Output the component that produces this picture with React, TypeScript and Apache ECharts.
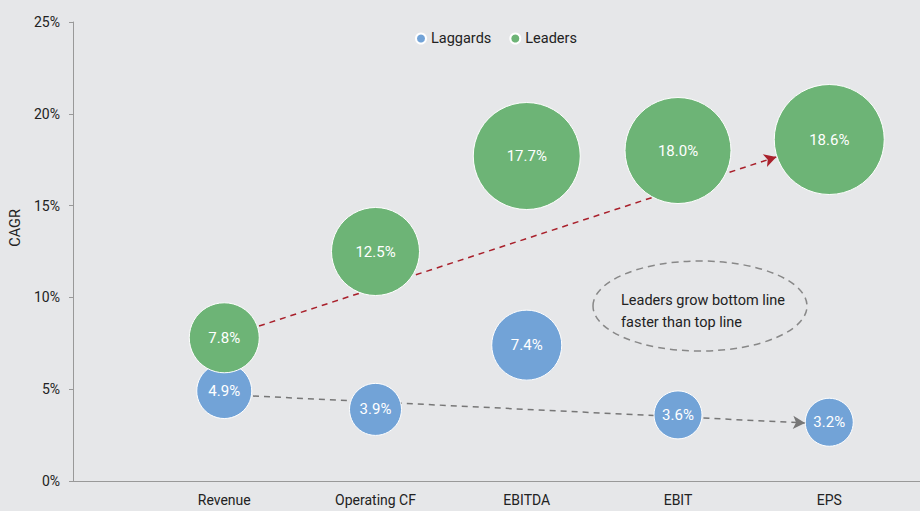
import React, { useEffect, useRef } from "react";
import * as echarts from "echarts";

const categories = ["Revenue", "Operating CF", "EBITDA", "EBIT", "EPS"];
const laggards = [4.9, 3.9, 7.4, 3.6, 3.2];
const leaders = [7.8, 12.5, 17.7, 18.0, 18.6];
const laggardSize = [55, 52, 70, 48, 48];
const leaderSize = [70, 88, 107, 106, 110];
const yTicks = [0, 5, 10, 15, 20, 25];

const FONT = '"Roboto", "Liberation Sans", sans-serif';
const BLUE = "#72a3d7";
const GREEN = "#6db476";

export default function App() {
  const ref = useRef<HTMLDivElement>(null);
  useEffect(() => {
    if (!ref.current) return;
    const chart = echarts.init(ref.current, null, { renderer: "svg" });
    const bubbles = (vals: number[], sizes: number[]) =>
      vals.map((v, i) => ({ value: [i + 1, v], symbolSize: sizes[i] }));
    chart.setOption({
      animation: false,
      backgroundColor: "#e6e7e9",
      textStyle: { fontFamily: FONT },
      legend: {
        data: ["Laggards", "Leaders"],
        left: 410,
        top: 26,
        icon: "circle",
        itemWidth: 10,
        itemHeight: 10,
        itemGap: 18,
        textStyle: { fontFamily: FONT, fontSize: 14.5, color: "#222" },
      },
      grid: { left: 73, right: 0, top: 22, bottom: 30 },
      xAxis: {
        type: "value",
        min: 0,
        max: 5.6,
        interval: 1,
        splitLine: { show: false },
        axisTick: { show: false },
        axisLine: { lineStyle: { color: "#999", width: 1 } },
        axisLabel: {
          showMaxLabel: false,
          margin: 12,
          fontFamily: FONT,
          fontSize: 14,
          color: "#222",
          formatter: (v: number) => categories[Math.round(v) - 1] ?? "",
        },
      },
      yAxis: {
        type: "value",
        min: yTicks[0],
        max: yTicks[yTicks.length - 1],
        interval: 5,
        splitLine: { show: false },
        axisLine: { show: true, lineStyle: { color: "#999", width: 1 } },
        axisTick: { show: true, length: 4, lineStyle: { color: "#999" } },
        axisLabel: {
          margin: 13,
          fontFamily: FONT,
          fontSize: 14,
          color: "#222",
          formatter: "{value}%",
        },
      },
      series: [
        {
          name: "arrows",
          type: "scatter",
          data: [],
          z: 1,
          silent: true,
          markLine: {
            z: 1,
            silent: true,
            symbol: ["none", "arrow"],
            symbolSize: [10, 12],
            label: { show: false },
            animation: false,
            data: [
              [
                { coord: [1.23, 8.44], lineStyle: { color: "#a9202b", type: [6, 5], width: 1.5 } },
                { coord: [4.65, 17.65] },
              ],
              [
                { coord: [1.19, 4.63], lineStyle: { color: "#777", type: [6, 5], width: 1.5 } },
                { coord: [4.84, 3.16] },
              ],
            ],
          },
        },
        {
          name: "Laggards",
          type: "scatter",
          z: 2,
          data: bubbles(laggards, laggardSize),
          itemStyle: { color: BLUE, opacity: 1, borderColor: "#fff", borderWidth: 1 },
          label: {
            show: true,
            position: "inside",
            color: "#fff",
            fontFamily: FONT,
            fontSize: 15,
            formatter: (p: any) => p.value[1].toFixed(1) + "%",
          },
        },
        {
          name: "Leaders",
          type: "scatter",
          z: 3,
          data: bubbles(leaders, leaderSize),
          itemStyle: { color: GREEN, opacity: 1, borderColor: "#fff", borderWidth: 1 },
          label: {
            show: true,
            position: "inside",
            color: "#fff",
            fontFamily: FONT,
            fontSize: 15,
            formatter: (p: any) => p.value[1].toFixed(1) + "%",
          },
        },
      ],
      graphic: [
        {
          type: "text",
          x: 15,
          y: 228,
          rotation: Math.PI / 2,
          style: {
            text: "CAGR",
            fontFamily: FONT,
            fontSize: 14.5,
            fill: "#222",
            align: "center",
            verticalAlign: "middle",
          },
        },
        {
          type: "ellipse",
          shape: { cx: 700, cy: 306, rx: 107, ry: 45 },
          style: { fill: "none", stroke: "#888", lineWidth: 1.5, lineDash: [7, 5] },
          silent: true,
        },
        {
          type: "text",
          x: 621,
          y: 289,
          style: {
            text: "Leaders grow bottom line\nfaster than top line",
            fontFamily: FONT,
            fontSize: 14.5,
            lineHeight: 22,
            fill: "#222",
            align: "left",
            verticalAlign: "top",
          },
        },
      ],
    });
    return () => chart.dispose();
  }, []);
  return (
    <div
      ref={ref}
      style={{ position: "absolute", left: 0, top: 0, width: 920, height: 511 }}
    />
  );
}
